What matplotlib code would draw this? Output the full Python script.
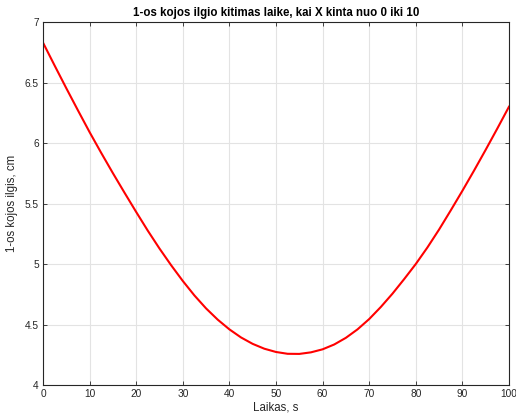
import matplotlib
matplotlib.use("Agg")
import matplotlib.pyplot as plt

plt.rcParams['font.family'] = ['Liberation Sans', 'DejaVu Sans']

# laikas, s
laikas = [0, 2.5, 5, 7.5, 10, 12.5, 15, 17.5, 20, 22.5, 25, 27.5, 30, 32.5,
          35, 37.5, 40, 42.5, 45, 47.5, 50, 52.5, 55, 57.5, 60, 62.5, 65,
          67.5, 70, 72.5, 75, 77.5, 80, 82.5, 85, 87.5, 90, 92.5, 95, 97.5,
          100]
# 1-os kojos ilgis, cm
ilgis = [6.83, 6.64, 6.453, 6.27, 6.09, 5.918, 5.751, 5.589, 5.43, 5.275,
         5.128, 4.99, 4.86, 4.74, 4.633, 4.54, 4.46, 4.393, 4.34, 4.30,
         4.273, 4.258, 4.257, 4.27, 4.295, 4.335, 4.39, 4.46, 4.545, 4.645,
         4.755, 4.875, 5.00, 5.137, 5.285, 5.443, 5.605, 5.772, 5.944, 6.12,
         6.30]

x_ticks = list(range(0, 101, 10))
y_ticks = [4, 4.5, 5, 5.5, 6, 6.5, 7]

pilka = '#262626'

fig = plt.figure(figsize=(5.16, 4.2), dpi=100)
ax = fig.add_axes([0.0833, 0.0833, 0.9031, 0.8643])

ax.plot(laikas, ilgis, color='red', linewidth=1.5)

ax.set_xlim(0, 100)
ax.set_ylim(4, 7)
ax.set_xticks(x_ticks)
ax.set_yticks(y_ticks)
ax.set_yticklabels(['4', '4.5', '5', '5.5', '6', '6.5', '7'])

ax.grid(True, color='#e3e3e3', linewidth=0.8)
ax.tick_params(direction='in', length=3, width=0.6, colors=pilka,
               labelsize=7.3, top=True, right=True, pad=3)
for s in ax.spines.values():
    s.set_color(pilka)
    s.set_linewidth(0.8)

ax.set_title('1-os kojos ilgio kitimas laike, kai X kinta nuo 0 iki 10',
             fontsize=8.3, fontweight='bold', pad=4)
ax.set_xlabel('Laikas, s', fontsize=8.3, color=pilka, labelpad=2)
ax.set_ylabel('1-os kojos ilgis, cm', fontsize=8.3, color=pilka, labelpad=5)

plt.savefig("out.png", dpi=100)
